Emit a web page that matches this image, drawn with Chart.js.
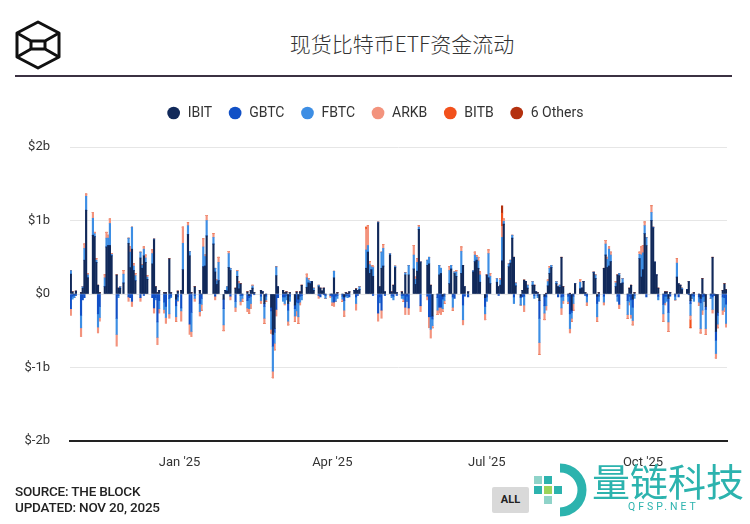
<!DOCTYPE html>
<html>
<head>
<meta charset="utf-8">
<script src="https://cdn.jsdelivr.net/npm/chart.js@4.4.1/dist/chart.umd.min.js"></script>
<style>
  body { margin: 0; width: 750px; height: 524px; background: #fff; position: relative; overflow: hidden; font-family: Roboto, sans-serif; }
  #logo { position: absolute; left: 15px; top: 20px; }
  #title { position: absolute; left: 54px; width: 696px; top: 28px; text-align: center; font-family: "Noto Sans CJK SC", sans-serif; font-weight: 300; font-size: 21px; color: #333; }
  #rule { position: absolute; left: 15px; width: 717px; top: 75px; height: 2px; background: #3b3142; }
  #wrap { position: absolute; left: 0; top: 90px; width: 750px; height: 400px; }
  #source { position: absolute; left: 15px; top: 483px; font-size: 13.5px; line-height: 16px; font-weight: 500; color: #222; letter-spacing: -0.2px; }
  #all { position: absolute; left: 492px; top: 487px; width: 37px; height: 26px; background: #d9d9d9; border-radius: 2px; font-size: 11px; font-weight: bold; color: #222; text-align: center; line-height: 26px; }
  #mark { position: absolute; left: 530px; top: 462px; }
  #markText { position: absolute; left: 592px; top: 458px; font-family: "Noto Sans CJK SC", sans-serif; font-size: 38px; color: #2cb3ae; line-height: 44px; }
  #markSub { position: absolute; left: 628px; top: 500px; font-size: 10.5px; letter-spacing: 3px; color: #2cb3ae; }
</style>
</head>
<body>
<svg id="logo" width="46" height="50" viewBox="0 0 46 50">
  <g fill="none" stroke="#111" stroke-width="3" stroke-linejoin="round">
    <polygon points="23,2 44,13 44,37 23,48 2,37 2,13"/>
    <polyline points="2,13 16,21 30,21 44,13"/>
    <polyline points="2,37 16,29 30,29 44,37"/>
    <line x1="16" y1="21" x2="16" y2="29"/>
    <line x1="30" y1="21" x2="30" y2="29"/>
  </g>
</svg>
<div id="title">现货比特币ETF资金流动</div>
<div id="rule"></div>
<div id="wrap"><canvas id="flows"></canvas></div>
<div id="source">SOURCE: THE BLOCK<br>UPDATED: NOV 20, 2025</div>
<div id="all">ALL</div>
<svg id="mark" width="58" height="56" viewBox="0 0 58 56">
  <path d="M30 6 A22 22 0 1 1 30 50" fill="none" stroke="#2cb3ae" stroke-width="9"/>
  <rect x="4" y="14" width="8" height="8" fill="#8fd3c9"/>
  <rect x="14" y="14" width="8" height="8" fill="#2cb3ae"/>
  <rect x="4" y="24" width="8" height="8" fill="#2cb3ae"/>
  <rect x="14" y="24" width="8" height="8" fill="#9bd35a"/>
  <rect x="24" y="24" width="8" height="8" fill="#2cb3ae"/>
  <rect x="14" y="34" width="8" height="8" fill="#8fd3c9"/>
</svg>
<div id="markText">量链科技</div>
<div id="markSub">QFSP.NET</div>

<script>
// trading days from 2024-10-29 to 2025-11-19 (US market holidays skipped)
const firstDay = '2024-10-29';
const lastDay = '2025-11-19';
const holidays = ['2024-11-28', '2024-12-25', '2025-01-01', '2025-01-09', '2025-01-20', '2025-02-17',
  '2025-04-18', '2025-05-26', '2025-06-19', '2025-07-04', '2025-09-01'];

// x axis labels (days counted from 1 Jan 2025)
const tickDays = [0, 90, 181, 273];
const tickLabels = ["Jan '25", "Apr '25", "Jul '25", "Oct '25"];

// daily net flows in $ millions, one row per month
const ibit = [
  270, 30, 0,
  40, 20, 80, 460, 1140, 220, 800, 780, 430, 120, 20, 100, 640, 660, 660, 520, 260, 80, 80, 150,
  690, 360, 610, 320, 180, 490, 350, 520, 430, 200, 410, 740, 100, 20, 50, 20, 20, 480, 20, -70, 40,
  50, 330, 810, 520, 20, 100, 50, 0, 370, 380, 790, 680, 300, 130, 180, -70, 50, 40, 360, 320,
  80, 240, 70, 140, 0, 30, -20, 50, 80, 20, 50, 30, -130, 0, -180, -550, -470, 250, 100,
  50, 20, 30, -130, 20, -150, 30, -70, 30, 120, 90, 150, 140, 170, 50, 100, 80, 40, 80, 0, 0,
  0, 220, 0, 20, 0, -40, 20, 10, 30, 50, 70, 50, 60, 350, 570, 280, 330, 240, 970, 100, 350,
  380, 30, 530, 30, 120, 360, 20, 30, 0, 260, 0, 260, 340, 130, 310, 880, 430, 390, 410, 120, -300,
  0, 260, 280, -30, 0, 140, 340, 0, 280, 240, 280, 390, 100, 30, 300, 440, 460, 350, 160, -50,
  260, 220, 140, 160, 100, 120, 450, 950, 370, 420, 760, 500, 110, -30, 50, 190, 170, 80, 120, 120, 30, 20,
  -90, -30, 10, 110, 280, 360, 140, 100, 90, 500, 100, 0, 10, -220, 0, 140, 70, 80, 170, 20, 0,
  290, 210, -30, 20, 350, 530, 360, 380, 440, 100, 260, 250, 140, 150, 0, 80, 120, -70, 20, 480, 230,
  330, 820, 660, 1000, 900, 430, 260, 80, 0, 30, 30, -60, 20, 0, 230, 140, 120, 60, 60, 170, -90, 0, 20,
  0, -60, 210, 0, -170, 0, 500, 0, -510, -250, 50, 140, 60
];
const gbtc = [
  -200, -30, -20,
  -20, -290, -80, -50, 0, 0, 0, 0, 0, -270, -170, 0, 0, 0, 0, 0, -330, -20, 0, 0,
  -40, -50, -100, 0, 0, -50, 0, -20, 0, 0, -50, -190, -50, -380, -90, -110, -170, -60, -30, -90, -40,
  -190, 0, 0, -410, -250, -20, -130, -60, 0, 0, 0, 0, -30, 0, 0, -130, 0, 0, 0, -30,
  -100, 0, 0, -20, -20, -90, -30, -30, 0, -10, -30, 0, -40, -30, -50, -160, -50, -210, -50,
  -40, -40, -20, -90, -30, -50, -110, -50, -30, -20, 0, 0, 0, 0, 0, -20, -40, 0, -10, -20, -20,
  -30, -110, -30, -20, -30, -50, -20, -20, -40, 0, -40, -20, 0, 0, 0, 0, 0, -20, -260, -40, -220,
  0, -20, 0, -20, -30, 0, -20, -20, -20, -180, -30, -190, 0, 0, 0, 0, -160, -30, -310, -310, -40,
  -50, -180, -180, -40, -30, 0, 0, -40, -60, 0, 0, -150, -30, -40, 0, 0, 0, 0, 0, -120,
  -40, 0, 0, 0, -20, 0, 0, 0, 0, 0, 0, -40, 0, -20, -40, -30, 0, 0, 0, -20, 0, -20,
  -240, -130, -40, 0, 0, 0, 0, -40, 0, -40, -30, -30, -270, -30, -30, 0, 0, 0, 0, -20, -30,
  0, 0, -100, -30, -30, 0, 0, 0, 0, 0, -30, -140, 0, 0, -90, -30, -80, -110, -20, 0, 0,
  0, 0, -40, 0, 0, 0, 0, -30, -140, -30, -30, -190, -30, -30, 0, -40, 0, 0, 0, -10, -40, -20, -30,
  -40, -60, -40, -30, -40, -20, -40, -20, -120, -40, -40, -50, -140
];
const fbtc = [
  50, -40, -30,
  0, -170, 20, 160, 190, 40, 230, 40, 30, -180, -150, 120, 120, 100, 300, 20, -220, -30, 20, 120,
  70, 210, 300, 60, 70, 80, 40, 90, 60, 30, 140, 10, -30, -210, -110, -100, -150, -210, -20, -150, -50,
  -40, 360, 120, 60, -260, -40, -110, -80, 270, 130, 210, 90, 50, 50, 250, -220, 0, 60, 190, 30,
  -80, 70, 70, -80, -40, -100, -150, -100, 30, 0, -60, 0, -160, -50, -250, -340, -150, 120, 0,
  -60, -90, -60, -150, -70, -100, -120, -190, -80, -60, 130, 40, 30, 0, 30, 20, 0, 0, 0, -40, 0,
  -80, 90, -70, -40, -40, -130, -20, -30, 0, 0, -90, 0, 40, 250, 90, 120, 40, 120, 10, -80, 220,
  240, 0, 20, -30, -50, 20, 0, -40, -50, 30, -70, 130, 190, 70, 120, 30, 10, 70, 90, -170, -90,
  -170, 130, 70, -130, -60, 180, 50, -140, 20, 60, 300, -200, 0, 0, 20, 90, 40, 100, 100, -100,
  -60, 330, 100, 50, 0, 70, 320, 40, 40, 40, 40, -90, 40, -100, 0, -120, 0, 40, 50, -40, 0, -30,
  -330, -100, -120, 60, 70, 30, 30, 0, 30, -150, -60, -70, -200, -80, -100, 0, 90, 0, 0, 0, -80,
  10, 50, -180, -70, -80, 150, 110, 230, 90, 50, -70, 30, 0, 60, -190, -80, -200, -180, -40, 60, 300,
  230, 110, 110, 110, 10, 10, 0, -50, -130, -90, -70, -130, 0, -50, 190, 0, 0, 20, 0, 0, -160, -40, -70,
  -70, -350, -180, -70, -260, -40, -170, 0, -180, -120, -180, -130, -260
];
const arkb = [
  -90, 0, 0,
  0, -120, 0, 60, 30, 20, 80, 20, 20, -80, -50, 40, 80, 40, 60, 10, -160, 0, 0, 50,
  -60, 70, -70, 30, 30, -50, 10, 30, 40, 20, 50, -70, 0, -100, -60, -50, -80, -60, 0, -60, -10,
  -140, 220, 40, -140, -70, -40, -60, -80, 110, 20, 70, 50, -50, 20, 70, -80, 0, 0, 30, -50,
  -60, 10, 30, -50, -40, -50, -60, -70, 10, 0, -40, 0, -70, -20, -50, -90, -90, -90, 0,
  0, -20, 0, -50, 0, -70, -70, -90, -40, 0, 50, 20, 0, 0, 0, -40, 0, 0, 0, 0, -20,
  -40, -60, 0, 0, -30, -80, 0, 0, 0, 0, -90, 0, 0, 280, 270, 40, 20, 20, -110, 0, -110,
  50, 0, 0, 0, 0, 0, 0, 0, -30, -100, 0, -90, 130, 30, 50, 20, -80, -50, -150, -120, -30,
  -60, -80, -100, -40, -40, 50, 0, -40, 0, 20, 60, -70, 0, 0, 0, 40, 20, 50, 40, -80,
  0, 50, 40, 0, 0, 20, 150, 30, 0, 0, 0, 0, 0, 0, 0, -90, 0, 0, 0, 0, 0, 0,
  -160, -90, -60, 20, 20, 0, 0, 0, 0, -90, -40, -30, -60, -40, -90, 0, 40, 0, 0, 0, -40,
  0, 0, -60, 0, -40, 50, 30, 30, 40, 20, 0, -60, 0, 0, -50, -40, -50, -60, 0, 30, 110,
  100, 50, 0, 90, 0, 0, 0, 0, -100, -30, 0, -130, 0, 0, 60, 0, 0, 0, 0, 0, -60, 0, 0,
  -40, -60, -60, 0, -80, 0, -50, 0, -60, -50, -60, -60, -50
];
const bitb = [
  0, 0, 0,
  0, 0, 0, 0, 0, 0, 0, 0, 0, 0, 0, 0, 0, 0, 0, 0, 0, 0, 0, 0,
  0, 0, 0, 0, 0, 0, 0, 0, 0, 0, 0, 0, 0, 0, 0, 0, 0, 0, 0, 0, 0,
  0, 0, 0, 0, 0, 0, 0, 0, 0, 0, 0, 0, 0, 0, 0, 0, 0, 0, 0, 0,
  0, 0, 0, 0, 0, 0, 0, 0, 0, 0, 0, 0, 0, 0, 0, 0, 0, 0, 0,
  0, 0, 0, 0, 0, 0, 0, 0, 0, 0, 0, 0, 0, 0, 0, 0, 0, 0, 0, 0, 0,
  0, 0, 0, 0, 0, 0, 0, 0, 0, 0, 0, 0, 0, 30, 0, 0, 0, 0, 0, 0, 0,
  0, 0, 0, 0, 0, 0, 0, 0, 0, 0, 0, 0, 0, 0, 0, 0, 0, 0, 0, 0, 0,
  0, 0, 0, 0, 0, 0, 0, 0, 0, 0, 0, 0, 0, 0, 0, 0, 0, 0, 0, 0,
  0, 0, 0, 0, 0, 0, 180, 0, 0, 0, 0, 0, 0, 0, 0, 0, 0, 0, 0, 0, 0, 0,
  0, 0, 0, 0, 0, 0, 0, 0, 0, 0, 0, 0, 0, 0, 0, 0, 0, 0, 0, 0, 0,
  0, 0, 0, 0, 0, 0, 0, 0, 0, 0, 0, 0, 0, 0, 0, 0, 0, 0, 0, 0, 0,
  0, 0, 0, 0, 0, 0, 0, 0, 0, 0, 0, 0, 0, 0, 0, 0, 0, 0, 0, 0, -110, 0, 0,
  0, 0, 0, 0, 0, 0, 0, 0, 0, 0, 0, 0, 0
];
const others = [
  0, 0, 0,
  0, 0, 0, 0, 0, 0, 0, 0, 0, 0, 0, 0, 0, 0, 0, 0, 0, 0, 0, 0,
  0, 0, 0, 0, 0, 0, 0, 0, 0, 0, 0, 0, 0, 0, 0, 0, 0, 0, 0, 0, 0,
  0, 0, 0, 0, 0, 0, 0, 0, 0, 0, 0, 0, 0, 0, 0, 0, 0, 0, 0, 0,
  0, 0, 0, 0, 0, 0, 0, 0, 0, 0, 0, 0, 0, 0, 0, 0, 0, 0, 0,
  0, 0, 0, 0, 0, 0, 0, 0, 0, 0, 0, 0, 0, 0, 0, 0, 0, 0, 0, 0, 0,
  0, 0, 0, 0, 0, 0, 0, 0, 0, 0, 0, 0, 0, 0, 0, 0, 0, 0, 0, 0, 0,
  0, 0, 0, 0, 0, 0, 0, 0, 0, 0, 0, 0, 0, 0, 0, 0, 0, 0, 0, 0, 0,
  0, 0, 0, 0, 0, 0, 0, 0, 0, 0, 0, 0, 0, 0, 0, 0, 0, 0, 0, 0,
  0, 0, 0, 0, 0, 0, 100, 0, 0, 0, 0, 0, 0, 0, 0, 0, 0, 0, 0, 0, 0, 0,
  0, 0, 0, 0, 0, 0, 0, 0, 0, 0, 0, 0, 0, 0, 0, 0, 0, 0, 0, 0, 0,
  0, 0, 0, 0, 0, 0, 0, 0, 0, 0, 0, 0, 0, 0, 0, 0, 0, 0, 0, 0, 0,
  0, 0, 0, 0, 0, 0, 0, 0, 0, 0, 0, 0, 0, 0, 0, 0, 0, 0, 0, 0, 0, 0, 0,
  0, 0, 0, 0, 0, 0, 0, 0, 0, 0, 0, 0, 0
];

const funds = [
  { label: 'IBIT', values: ibit, color: '#11295a' },
  { label: 'GBTC', values: gbtc, color: '#1150c6' },
  { label: 'FBTC', values: fbtc, color: '#3d8ee4' },
  { label: 'ARKB', values: arkb, color: '#f3937d' },
  { label: 'BITB', values: bitb, color: '#f2511c' },
  { label: '6 Others', values: others, color: '#b4310f' }
];

// build the list of trading days as offsets from 1 Jan 2025
const jan1 = Date.UTC(2025, 0, 1);
const tradingDays = [];
for (let t = Date.parse(firstDay); t <= Date.parse(lastDay); t += 86400000) {
  const d = new Date(t);
  const wd = d.getUTCDay();
  const iso = d.toISOString().slice(0, 10);
  if (wd === 0 || wd === 6 || holidays.includes(iso)) continue;
  tradingDays.push(Math.round((t - jan1) / 86400000));
}

// stretch the legend box a bit so the plot starts lower
const legendSpacer = {
  id: 'legendSpacer',
  beforeInit(chart) {
    const fit = chart.legend.fit;
    chart.legend.fit = function () {
      fit.bind(chart.legend)();
      this.height += 17;
    };
  }
};

new Chart(document.getElementById('flows'), {
  type: 'bar',
  data: {
    datasets: funds.map(f => ({
      label: f.label,
      data: tradingDays.map((d, i) => ({ x: d, y: f.values[i] })),
      backgroundColor: f.color,
      borderWidth: 0,
      barThickness: 1.5
    }))
  },
  options: {
    responsive: true,
    maintainAspectRatio: false,
    animation: false,
    layout: { padding: { top: 0, right: 23, left: 23, bottom: 0 } },
    plugins: {
      legend: {
        position: 'top',
        labels: {
          usePointStyle: true,
          pointStyle: 'circle',
          boxWidth: 14,
          boxHeight: 9,
          padding: 16,
          color: '#333',
          font: { size: 14, family: 'Roboto' }
        }
      },
      tooltip: { enabled: false }
    },
    scales: {
      x: {
        type: 'linear',
        stacked: true,
        offset: false,
        min: -64.5,
        max: 322.5,
        grid: { display: false, drawTicks: false },
        border: { display: true, color: '#222', width: 2 },
        afterBuildTicks: s => { s.ticks = tickDays.map(v => ({ value: v })); },
        afterFit: s => { s.height = 49; },
        ticks: {
          padding: 14,
          maxRotation: 0,
          color: '#333',
          font: { size: 13, family: 'Roboto' },
          callback: v => tickLabels[tickDays.indexOf(v)]
        }
      },
      y: {
        stacked: true,
        min: -2000,
        max: 2000,
        grid: { color: '#e6e6e6', drawTicks: false },
        border: { display: false },
        afterFit: s => { s.width = 47; },
        ticks: {
          stepSize: 1000,
          padding: 20,
          color: '#333',
          font: { size: 13, family: 'Roboto' },
          callback: v => (v === 0 ? '$0' : '$' + (v / 1000) + 'b')
        }
      }
    }
  },
  plugins: [legendSpacer]
});
</script>
</body>
</html>
